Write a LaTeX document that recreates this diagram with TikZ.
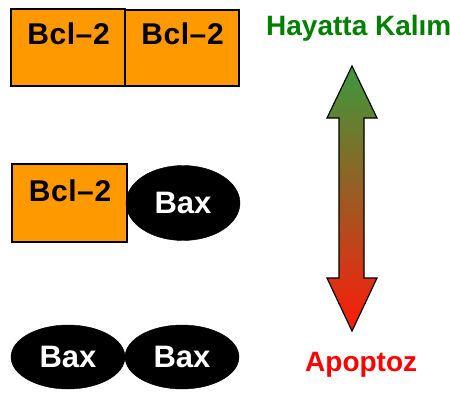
\documentclass[tikz,border=0pt]{standalone}
\usepackage{fontspec}
\setmainfont{Liberation Sans}
\usetikzlibrary{shapes.geometric}
\definecolor{bclorange}{HTML}{FF9900}
\definecolor{surv}{HTML}{008000}
\definecolor{apop}{HTML}{FF0000}
\definecolor{arrtop}{HTML}{3C9A3A}
\definecolor{arrmid}{HTML}{B66C2C}
\definecolor{arrbot}{HTML}{FF1A0A}
\tikzset{
  bclbox/.style={draw=black, line width=1.2pt, fill=bclorange, rectangle, inner sep=0pt},
  bcltext/.style={font=\fontsize{30}{32}\selectfont\bfseries, text=black, inner sep=0pt},
  baxnode/.style={draw=black, fill=black, ellipse, minimum width=114pt, minimum height=#1, inner sep=0pt,
    font=\fontsize{31}{33}\selectfont\bfseries, text=white},
  baxnode/.default=64pt,
  label/.style={font=\fontsize{28}{30}\selectfont\bfseries, inner sep=0pt}
}
\begin{document}
\begin{tikzpicture}[x=1pt,y=-1pt]
\useasboundingbox (0,0) rectangle (450,392);

% two Bcl-2 units side by side
\node[bclbox, minimum width=114pt, minimum height=77pt] (b1) at (68,47.5) {};
\node[bclbox, minimum width=114pt, minimum height=76pt] (b2) at (182,48) {};
\node[bcltext, anchor=base] (t1) at (68.5,44.5) {\addfontfeature{LetterSpace=2}Bcl–2};
\node[bcltext, anchor=base] (t2) at (182.5,44.5) {\addfontfeature{LetterSpace=2}Bcl–2};

% Bcl-2 bound to Bax
\node[bclbox, minimum width=115pt, minimum height=78pt] (b3) at (69.5,203) {};
\node[bcltext, anchor=base] (t3) at (70,201.5) {\addfontfeature{LetterSpace=2}Bcl–2};
\node[baxnode=75pt] (x1) at (183,203) {Bax};

% two Bax units
\node[baxnode] (x2) at (68,357) {Bax};
\node[baxnode] (x3) at (182,357) {Bax};

% scale arrow between survival and apoptosis
\shade[top color=arrtop, middle color=arrmid, bottom color=arrbot]
  (352,66) -- (377,118) -- (364,118) -- (364,278) -- (377,278) -- (352,331)
  -- (327,278) -- (339,278) -- (339,118) -- (327,118) -- cycle;
\draw[line width=1.2pt, line join=miter]
  (352,66) -- (377,118) -- (364,118) -- (364,278) -- (377,278) -- (352,331)
  -- (327,278) -- (339,278) -- (339,118) -- (327,118) -- cycle;

\node[label, text=surv, anchor=base west] (hk) at (266,35) {Hayatta Kalım};
\node[label, text=apop, anchor=base west] (ap) at (305,371) {Apoptoz};
\end{tikzpicture}
\end{document}
